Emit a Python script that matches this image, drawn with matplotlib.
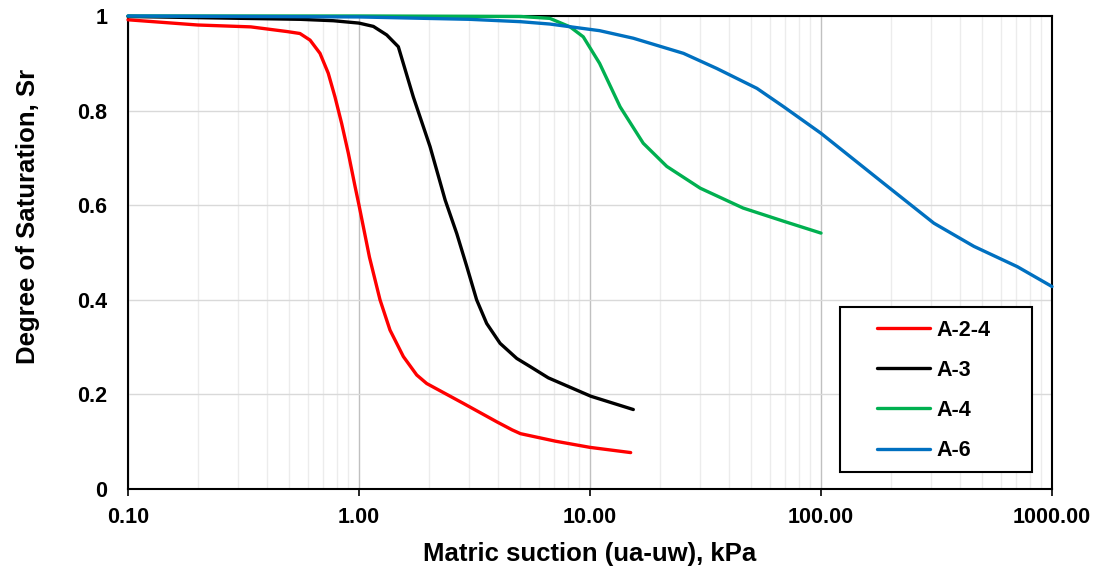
import matplotlib
matplotlib.use("Agg")
import matplotlib.pyplot as plt
from matplotlib.patches import Rectangle
from matplotlib.ticker import FixedLocator, FixedFormatter, LogLocator, NullFormatter

plt.rcParams['font.family'] = ['Liberation Sans', 'DejaVu Sans']
plt.rcParams['font.weight'] = 'bold'

# Soil-water characteristic curves: matric suction (kPa) vs degree of saturation
a24_suction = [0.1, 0.2, 0.34, 0.49, 0.555, 0.614, 0.678, 0.736, 0.787, 0.841, 0.899,
               0.962, 1.0, 1.11, 1.233, 1.362, 1.556, 1.778, 1.964, 2.83, 3.95, 4.6,
               5.0, 7.1, 10.0, 15.0]
a24_sr = [0.992, 0.981, 0.977, 0.967, 0.963, 0.949, 0.921, 0.879, 0.829, 0.773, 0.710,
          0.639, 0.600, 0.490, 0.400, 0.336, 0.280, 0.241, 0.223, 0.181, 0.142, 0.125,
          0.117, 0.101, 0.088, 0.077]

a3_suction = [0.1, 0.556, 0.775, 1.0, 1.154, 1.318, 1.48, 1.718, 2.03, 2.36, 2.65, 2.93,
              3.23, 3.57, 4.08, 4.82, 5.5, 6.6, 10.1, 15.4]
a3_sr = [0.999, 0.993, 0.990, 0.985, 0.978, 0.960, 0.935, 0.829, 0.724, 0.611, 0.540,
         0.470, 0.400, 0.350, 0.308, 0.276, 0.259, 0.235, 0.196, 0.168]

a4_suction = [0.1, 1.0, 5.0, 6.7, 8.2, 9.35, 11.0, 13.5, 17.0, 21.5, 30.0, 46.0, 69.0, 100.0]
a4_sr = [1.0, 1.0, 0.999, 0.995, 0.977, 0.956, 0.90, 0.808, 0.731, 0.682, 0.636,
         0.594, 0.566, 0.541]

a6_suction = [0.1, 1.0, 3.0, 5.0, 6.7, 11.0, 15.4, 25.4, 35.4, 52.8, 69.0, 100.0,
              187.0, 308.0, 459.0, 708.0, 1000.0]
a6_sr = [1.0, 0.998, 0.993, 0.988, 0.983, 0.969, 0.953, 0.921, 0.889, 0.847, 0.808,
         0.752, 0.646, 0.562, 0.513, 0.470, 0.428]

series_names = ['A-2-4', 'A-3', 'A-4', 'A-6']
series_colors = ['#ff0000', '#000000', '#00b050', '#0070c0']

x_ticks = [0.1, 1, 10, 100, 1000]
x_tick_labels = ['0.10', '1.00', '10.00', '100.00', '1000.00']
y_ticks = [0, 0.2, 0.4, 0.6, 0.8, 1.0]
y_tick_labels = ['0', '0.2', '0.4', '0.6', '0.8', '1']

fig = plt.figure(figsize=(11.02, 5.71), dpi=100)
ax = fig.add_axes([128 / 1102, 82 / 571, 924 / 1102, 473 / 571])

data = [(a24_suction, a24_sr), (a3_suction, a3_sr), (a4_suction, a4_sr), (a6_suction, a6_sr)]
for (xs, ys), name, color in zip(data, series_names, series_colors):
    ax.plot(xs, ys, color=color, lw=2.4, label=name, clip_on=False,
            solid_capstyle='round', solid_joinstyle='round', zorder=3)

ax.set_xscale('log')
ax.set_xlim(0.1, 1000)
ax.set_ylim(0, 1)

ax.xaxis.set_major_locator(FixedLocator(x_ticks))
ax.xaxis.set_major_formatter(FixedFormatter(x_tick_labels))
ax.xaxis.set_minor_locator(LogLocator(base=10, subs=range(2, 10), numticks=20))
ax.xaxis.set_minor_formatter(NullFormatter())
ax.yaxis.set_major_locator(FixedLocator(y_ticks))
ax.yaxis.set_major_formatter(FixedFormatter(y_tick_labels))

ax.grid(True, which='major', axis='x', color='#c0c0c0', lw=1.0, zorder=0)
ax.grid(True, which='minor', axis='x', color='#ececec', lw=1.0, zorder=0)
ax.grid(True, which='major', axis='y', color='#d9d9d9', lw=1.0, zorder=0)
ax.set_axisbelow(True)

ax.tick_params(axis='x', which='major', length=5, width=1.2, direction='out',
               labelsize=15.5, pad=8)
ax.tick_params(axis='x', which='minor', length=0)
ax.tick_params(axis='y', which='major', length=0, labelsize=15.5, pad=15)
for lbl in ax.get_xticklabels() + ax.get_yticklabels():
    lbl.set_fontweight('bold')

for sp in ax.spines.values():
    sp.set_color('black')
    sp.set_linewidth(1.5)

ax.set_xlabel('Matric suction (ua-uw), kPa', fontsize=18.5, fontweight='bold')
ax.set_ylabel('Degree of Saturation, Sr', fontsize=18.5, fontweight='bold')
ax.xaxis.set_label_coords(0.5, -0.112)
ax.yaxis.set_label_coords(-0.095, 0.577)

# legend box drawn as its own framed rectangle, entries placed inside it
ax.add_patch(Rectangle((0.7706, 0.0359), 0.2078, 0.3488, transform=ax.transAxes,
                       facecolor='white', edgecolor='black', lw=1.5, zorder=4,
                       clip_on=False))
leg = ax.legend(loc='upper left', bbox_to_anchor=(0.8106, 0.358), borderaxespad=0,
                frameon=False, prop={'weight': 'bold', 'size': 15.5},
                handlelength=2.45, handletextpad=0.3, labelspacing=0.89,
                borderpad=0)
leg.set_zorder(5)
for h in leg.get_lines():
    h.set_linewidth(2.4)

fig.savefig('out.png', dpi=100)
